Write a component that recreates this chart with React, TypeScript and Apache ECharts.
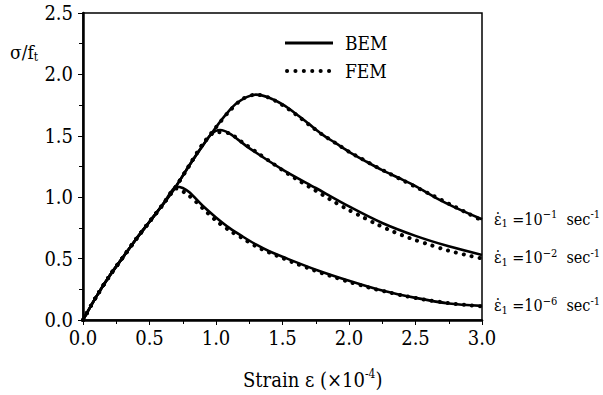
import React, { useEffect, useRef } from "react";
import * as echarts from "echarts";

// ---- data (strain ×10^-4, normalized stress σ/ft) ----
const strainB1 = [0, 0.1, 0.2, 0.3, 0.4, 0.5, 0.6, 0.66, 0.7, 0.75, 0.8, 0.9, 1.0, 1.1, 1.2, 1.3, 1.4, 1.5, 1.75, 2.0, 2.25, 2.5, 2.75, 3.0];
const bem1 = [0, 0.19, 0.36, 0.51, 0.66, 0.8, 0.94, 1.04, 1.085, 1.075, 1.04, 0.93, 0.835, 0.75, 0.68, 0.615, 0.56, 0.515, 0.41, 0.32, 0.24, 0.18, 0.135, 0.115];

const strainB2 = [0, 0.1, 0.2, 0.3, 0.4, 0.5, 0.6, 0.7, 0.8, 0.9, 0.97, 1.03, 1.1, 1.25, 1.5, 1.75, 2.0, 2.25, 2.5, 2.75, 3.0];
const bem2 = [0, 0.19, 0.36, 0.51, 0.66, 0.8, 0.94, 1.09, 1.26, 1.42, 1.52, 1.547, 1.52, 1.4, 1.225, 1.075, 0.925, 0.79, 0.685, 0.6, 0.53];

const strainB3 = [0, 0.1, 0.2, 0.3, 0.4, 0.5, 0.6, 0.7, 0.8, 0.9, 1.0, 1.08, 1.15, 1.23, 1.3, 1.4, 1.5, 1.6, 1.7, 1.8, 1.9, 2.0, 2.13, 2.25, 2.38, 2.5, 2.66, 2.8, 3.0];
const bem3 = [0, 0.19, 0.36, 0.51, 0.66, 0.8, 0.94, 1.09, 1.26, 1.42, 1.57, 1.68, 1.76, 1.815, 1.835, 1.81, 1.755, 1.68, 1.595, 1.51, 1.44, 1.37, 1.29, 1.22, 1.154, 1.09, 0.99, 0.915, 0.82];

const strainF = [0, 0.1, 0.2, 0.3, 0.4, 0.5, 0.6, 0.7, 0.8, 0.9, 1.0, 1.1, 1.2, 1.3, 1.4, 1.5, 1.6, 1.7, 1.8, 1.9, 2.0, 2.1, 2.2, 2.3, 2.4, 2.5, 2.6, 2.7, 2.8, 2.9, 3.0];
const fem1 = [0, 0.19, 0.36, 0.51, 0.66, 0.8, 0.94, 1.07, 1.01, 0.91, 0.81, 0.73, 0.665, 0.6, 0.55, 0.505, 0.46, 0.42, 0.38, 0.345, 0.31, 0.28, 0.25, 0.225, 0.2, 0.18, 0.16, 0.145, 0.13, 0.12, 0.11];
const fem2 = [0, 0.19, 0.36, 0.51, 0.66, 0.8, 0.94, 1.09, 1.26, 1.43, 1.53, 1.52, 1.445, 1.37, 1.295, 1.22, 1.15, 1.085, 1.02, 0.955, 0.895, 0.84, 0.785, 0.735, 0.69, 0.65, 0.615, 0.58, 0.55, 0.525, 0.5];
const fem3 = [0, 0.19, 0.36, 0.51, 0.66, 0.8, 0.94, 1.09, 1.26, 1.43, 1.57, 1.7, 1.8, 1.835, 1.81, 1.75, 1.675, 1.59, 1.51, 1.44, 1.37, 1.31, 1.25, 1.195, 1.14, 1.085, 1.03, 0.975, 0.92, 0.865, 0.81];

const rateExponents = ["−6", "−2", "−1"];
const xTicks = { min: 0, max: 3, interval: 0.5 };
const yTicks = { min: 0, max: 2.5, interval: 0.5 };

const FONT = "DejaVu Serif Condensed, DejaVu Serif";

const zip = (xs: number[], ys: number[]) => xs.map((x, i) => [x, ys[i]]);

const rateLabel = (exp: string, dy: number) => ({
  show: true,
  offset: [4, dy],
  formatter: `{e|ε̇}{sub|1}{m| =10}{sup|${exp}}{m|  sec}{sup|-1}`,
  rich: {
    e: { fontSize: 16, fontFamily: FONT, color: "#000", lineHeight: 20 },
    m: { fontSize: 16, fontFamily: FONT, color: "#000", lineHeight: 20 },
    sub: { fontSize: 11, fontFamily: FONT, color: "#000", lineHeight: 11, verticalAlign: "bottom" },
    sup: { fontSize: 11, fontFamily: FONT, color: "#000", lineHeight: 11, verticalAlign: "top" },
  },
});

export default function App() {
  const ref = useRef<HTMLDivElement>(null);
  useEffect(() => {
    if (!ref.current) return;
    const chart = echarts.init(ref.current, undefined, { renderer: "svg" });
    const bemStyle = { color: "#000", width: 2.6 };
    const femStyle = { color: "#000", width: 4, type: [0.1, 8], cap: "round" };
    const curves = [
      { x: strainB1, y: bem1, f: fem1, exp: rateExponents[0], dy: 0 },
      { x: strainB2, y: bem2, f: fem2, exp: rateExponents[1], dy: 3 },
      { x: strainB3, y: bem3, f: fem3, exp: rateExponents[2], dy: 0 },
    ];
    const series: any[] = [];
    curves.forEach((c) => {
      series.push({
        type: "line",
        name: "BEM",
        data: zip(c.x, c.y),
        showSymbol: false,
        symbol: "none",
        smooth: 0.3,
        lineStyle: bemStyle,
        itemStyle: { color: "#000" },
        endLabel: rateLabel(c.exp, c.dy),
        z: 3,
      });
      series.push({
        type: "line",
        name: "FEM",
        data: zip(strainF, c.f),
        showSymbol: false,
        symbol: "none",
        smooth: 0.3,
        lineStyle: femStyle,
        itemStyle: { color: "#000" },
        z: 4,
      });
    });

    const axisLabel = {
      color: "#000",
      fontSize: 20,
      fontFamily: FONT,
      formatter: (v: number) => v.toFixed(1),
    };

    chart.setOption({
      animation: false,
      backgroundColor: "#fff",
      grid: {
        left: 83,
        top: 13,
        right: 121,
        bottom: 75,
        show: true,
        borderColor: "#000",
        borderWidth: 1.5,
        backgroundColor: "transparent",
      },
      xAxis: {
        type: "value",
        ...xTicks,
        axisLine: { show: true, onZero: false, lineStyle: { color: "#000", width: 2.5 } },
        axisTick: { show: true, inside: false, length: 5, lineStyle: { color: "#000", width: 1 } },
        minorTick: { show: true, splitNumber: 2, length: 4, lineStyle: { color: "#000", width: 1 } },
        splitLine: { show: false },
        axisLabel: { ...axisLabel, margin: 8 },
      },
      yAxis: {
        type: "value",
        ...yTicks,
        axisLine: { show: true, onZero: false, lineStyle: { color: "#000", width: 2.5 } },
        axisTick: { show: true, inside: false, length: 5, lineStyle: { color: "#000", width: 1 } },
        minorTick: { show: true, splitNumber: 2, length: 4, lineStyle: { color: "#000", width: 1 } },
        splitLine: { show: false },
        axisLabel: { ...axisLabel, margin: 10 },
      },
      series,
      graphic: [
        {
          type: "line",
          shape: { x1: 285, y1: 43, x2: 333, y2: 43 },
          style: { stroke: "#000", lineWidth: 3 },
        },
        {
          type: "line",
          shape: { x1: 287, y1: 71, x2: 333, y2: 71 },
          style: { stroke: "#000", lineWidth: 4, lineDash: [0.1, 8.3], lineCap: "round" },
        },
        {
          type: "text",
          x: 345,
          y: 43,
          style: { text: "BEM", fontSize: 19, fontFamily: FONT, fill: "#000", verticalAlign: "middle", align: "left" },
        },
        {
          type: "text",
          x: 345,
          y: 71,
          style: { text: "FEM", fontSize: 19, fontFamily: FONT, fill: "#000", verticalAlign: "middle", align: "left" },
        },
        {
          type: "text",
          x: 10,
          y: 52,
          style: {
            text: "{a|σ/f}{b|t}",
            verticalAlign: "middle",
            align: "left",
            rich: {
              a: { fontSize: 19, fontFamily: FONT, fill: "#000", lineHeight: 22 },
              b: { fontSize: 12, fontFamily: FONT, fill: "#000", lineHeight: 12, verticalAlign: "bottom" },
            },
          },
        },
        {
          type: "text",
          x: 243,
          y: 380,
          style: {
            text: "{a|Strain ε (×10}{b|-4}{a|)}",
            verticalAlign: "middle",
            align: "left",
            rich: {
              a: { fontSize: 20, fontFamily: FONT, fill: "#000", lineHeight: 24 },
              b: { fontSize: 12, fontFamily: FONT, fill: "#000", lineHeight: 12, verticalAlign: "top" },
            },
          },
        },
      ],
    });
    return () => chart.dispose();
  }, []);
  return (
    <div
      ref={ref}
      style={{ position: "fixed", left: 0, top: 0, width: 603, height: 395, background: "#fff" }}
    />
  );
}
